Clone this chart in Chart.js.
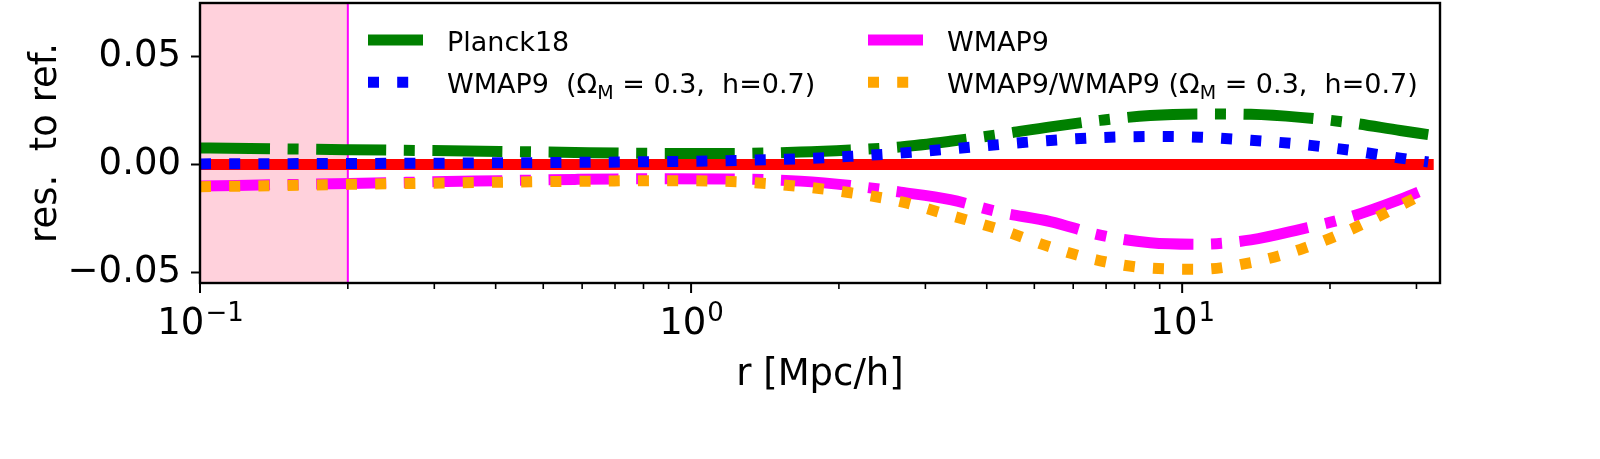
<!DOCTYPE html>
<html lang="en">
<head>
<meta charset="UTF-8">
<title>res. to ref.</title>
<script src="https://cdn.jsdelivr.net/npm/chart.js"></script>
<style>
  html, body { margin: 0; padding: 0; background: #fff; }
  #wrap { width: 1600px; height: 459px; }
</style>
</head>
<body>
<div id="wrap"><canvas id="resChart" width="1600" height="459"></canvas></div>
<script>
// r [Mpc/h] sample points
const rValues = [0.1, 0.142, 0.202, 0.287, 0.408, 0.58, 0.825, 1.17, 1.67, 2.11, 2.67,
                 3.37, 4.26, 5.39, 6.81, 8.61, 10.9, 13.8, 17.4, 22.0, 27.8, 31.7];

const planck18 = [0.0077, 0.0073, 0.0069, 0.0065, 0.0061, 0.0056, 0.0052, 0.0051, 0.0058, 0.0068, 0.0082,
                  0.0108, 0.0140, 0.0175, 0.0205, 0.0228, 0.0235, 0.0233, 0.0219, 0.0194, 0.0158, 0.0139];
const wmap9Om = [0.0003, 0.0004, 0.0005, 0.0006, 0.0008, 0.0010, 0.0013, 0.0018, 0.0027, 0.0038, 0.0053,
                 0.0072, 0.0093, 0.0112, 0.0125, 0.0130, 0.0127, 0.0113, 0.0094, 0.0066, 0.0030, 0.0012];
const wmap9 = [-0.0100, -0.0094, -0.0088, -0.0081, -0.0075, -0.0069, -0.0066, -0.0067, -0.0077, -0.0097, -0.0128,
               -0.0163, -0.0222, -0.0265, -0.0328, -0.0363, -0.0370, -0.0350, -0.0301, -0.0243, -0.0162, -0.0109];
const wmap9Ratio = [-0.0103, -0.0098, -0.0092, -0.0087, -0.0082, -0.0078, -0.0075, -0.0078, -0.0102, -0.0131, -0.0172,
                    -0.0236, -0.0302, -0.0383, -0.0447, -0.0481, -0.0486, -0.0455, -0.0394, -0.0303, -0.0190, -0.0125];

// reference line
const refR = [0.1, 31.7];
const refValues = [0, 0];

// legend labels, {..} = subscript
const labelPlanck = 'Planck18';
const labelWmapOm = 'WMAP9  (Ω{M} = 0.3,  h=0.7)';
const labelWmap = 'WMAP9';
const labelRatio = 'WMAP9/WMAP9 (Ω{M} = 0.3,  h=0.7)';

// axes
const xMin = 0.1, xMax = 33.5;
const yMin = -0.055, yMax = 0.075;
const xMajorTicks = [0.1, 1, 10];
const xMajorExp = ['−1', '0', '1'];
const xMinorTicks = [0.2, 0.3, 0.4, 0.5, 0.6, 0.7, 0.8, 0.9, 2, 3, 4, 5, 6, 7, 8, 9, 20, 30];
const yTickValues = [-0.05, 0, 0.05];
const yTickLabels = ['−0.05', '0.00', '0.05'];
const xTitle = 'r [Mpc/h]';
const yTitle = 'res.  to ref.';

// shaded band and marker line
const shadeRange = [0.1, 0.2];

const FONT = '"DejaVu Sans", sans-serif';
const LW = 11;
const DASHDOT = [70, 17.6, 11, 17.6];
const DOTTED = [11, 18.2];

function pts(xs, ys) {
    return xs.map((x, i) => ({ x: x, y: ys[i] }));
}

// draws text with {sub} parts as subscript, returns width
function drawRich(ctx, text, x, y, size) {
    const parts = text.split(/(\{[^}]*\})/);
    let cx = x;
    parts.forEach(p => {
        if (!p) return;
        if (p[0] === '{') {
            const s = p.slice(1, -1);
            ctx.font = Math.round(size * 0.7) + 'px ' + FONT;
            ctx.fillText(s, cx, y + 6);
            cx += ctx.measureText(s).width;
        } else {
            ctx.font = size + 'px ' + FONT;
            ctx.fillText(p, cx, y);
            cx += ctx.measureText(p).width;
        }
    });
    return cx - x;
}

const decor = {
    id: 'decor',
    beforeDraw(chart) {
        const c = chart.ctx;
        c.save();
        c.fillStyle = '#fff';
        c.fillRect(0, 0, chart.width, chart.height);
        c.restore();
    },
    beforeDatasetsDraw(chart) {
        const { ctx, chartArea: a, scales: { x } } = chart;
        const x0 = x.getPixelForValue(shadeRange[0]);
        const x1 = x.getPixelForValue(shadeRange[1]);
        ctx.save();
        ctx.fillStyle = '#ffd1dc';
        ctx.fillRect(x0, a.top, x1 - x0, a.bottom - a.top);
        ctx.strokeStyle = '#ff00ff';
        ctx.lineWidth = 2;
        ctx.beginPath();
        ctx.moveTo(x1, a.top);
        ctx.lineTo(x1, a.bottom);
        ctx.stroke();
        ctx.restore();
    },
    afterDatasetsDraw(chart) {
        const { ctx, chartArea: a, scales: { x } } = chart;
        ctx.save();

        // frame
        ctx.strokeStyle = '#000';
        ctx.lineWidth = 2.4;
        ctx.strokeRect(a.left, a.top, a.right - a.left, a.bottom - a.top);

        // x ticks
        ctx.lineWidth = 2;
        xMajorTicks.forEach(v => {
            const px = x.getPixelForValue(v);
            ctx.beginPath(); ctx.moveTo(px, a.bottom); ctx.lineTo(px, a.bottom + 10); ctx.stroke();
        });
        ctx.lineWidth = 1.6;
        xMinorTicks.forEach(v => {
            const px = x.getPixelForValue(v);
            ctx.beginPath(); ctx.moveTo(px, a.bottom); ctx.lineTo(px, a.bottom + 6); ctx.stroke();
        });

        // x tick labels 10^n
        ctx.fillStyle = '#000';
        ctx.textBaseline = 'alphabetic';
        ctx.textAlign = 'left';
        xMajorTicks.forEach((v, i) => {
            const px = x.getPixelForValue(v);
            ctx.font = '37px ' + FONT;
            const wb = ctx.measureText('10').width;
            ctx.font = '26px ' + FONT;
            const we = ctx.measureText(xMajorExp[i]).width;
            const left = px - (wb + we) / 2;
            ctx.font = '37px ' + FONT;
            ctx.fillText('10', left, a.bottom + 51);
            ctx.font = '26px ' + FONT;
            ctx.fillText(xMajorExp[i], left + wb + 1, a.bottom + 38);
        });

        // axis titles
        ctx.font = '37px ' + FONT;
        ctx.textAlign = 'center';
        ctx.fillText(xTitle, (a.left + a.right) / 2, a.bottom + 102);
        ctx.save();
        ctx.translate(56, (a.top + a.bottom) / 2);
        ctx.rotate(-Math.PI / 2);
        ctx.fillText(yTitle, 0, 0);
        ctx.restore();

        // legend, two columns
        const items = [
            { label: labelPlanck, ds: 3, col: 0, row: 0 },
            { label: labelWmapOm, ds: 1, col: 0, row: 1 },
            { label: labelWmap, ds: 2, col: 1, row: 0 },
            { label: labelRatio, ds: 0, col: 1, row: 1 }
        ];
        ctx.textAlign = 'left';
        items.forEach(it => {
            const d = chart.data.datasets[it.ds];
            const hx = a.left + 168 + it.col * 500;
            const hy = a.top + 37 + it.row * 42.3;
            ctx.strokeStyle = d.borderColor;
            ctx.lineWidth = LW;
            ctx.lineCap = 'butt';
            ctx.setLineDash(d.borderDash || []);
            ctx.beginPath(); ctx.moveTo(hx, hy); ctx.lineTo(hx + 55, hy); ctx.stroke();
            ctx.setLineDash([]);
            ctx.fillStyle = '#000';
            drawRich(ctx, it.label, hx + 79, hy + 10.8, 27);
        });
        ctx.restore();
    }
};

const ctx = document.getElementById('resChart').getContext('2d');
new Chart(ctx, {
    type: 'line',
    data: {
        datasets: [
            { label: labelRatio, data: pts(rValues, wmap9Ratio), borderColor: '#ffa500', borderDash: DOTTED },
            { label: labelWmapOm, data: pts(rValues, wmap9Om), borderColor: '#0000ff', borderDash: DOTTED },
            { label: labelWmap, data: pts(rValues, wmap9), borderColor: '#ff00ff', borderDash: DASHDOT },
            { label: labelPlanck, data: pts(rValues, planck18), borderColor: '#008000', borderDash: DASHDOT },
            { label: 'ref', data: pts(refR, refValues), borderColor: '#ff0000', borderCapStyle: 'square' }
        ]
    },
    options: {
        responsive: false,
        animation: false,
        devicePixelRatio: 1,
        layout: { padding: { top: 3, right: 160, bottom: 0, left: 0 } },
        plugins: { legend: { display: false }, tooltip: { enabled: false } },
        elements: {
            point: { radius: 0 },
            line: { borderWidth: LW, fill: false, cubicInterpolationMode: 'monotone', borderCapStyle: 'butt' }
        },
        scales: {
            x: {
                type: 'logarithmic',
                min: xMin,
                max: xMax,
                ticks: { display: false },
                grid: { display: false },
                border: { display: false },
                afterFit(s) { s.height = 176; s.paddingLeft = 0; s.paddingRight = 0; }
            },
            y: {
                type: 'linear',
                min: yMin,
                max: yMax,
                afterBuildTicks(s) { s.ticks = yTickValues.map(v => ({ value: v })); },
                ticks: {
                    color: '#000',
                    font: { family: FONT, size: 37 },
                    padding: 10,
                    callback: v => yTickLabels[yTickValues.indexOf(v)]
                },
                grid: { drawOnChartArea: false, tickLength: 9, tickWidth: 2, tickColor: '#000' },
                border: { display: false },
                afterFit(s) { s.width = 200; s.paddingTop = 0; s.paddingBottom = 0; }
            }
        }
    },
    plugins: [decor]
});
</script>
</body>
</html>
